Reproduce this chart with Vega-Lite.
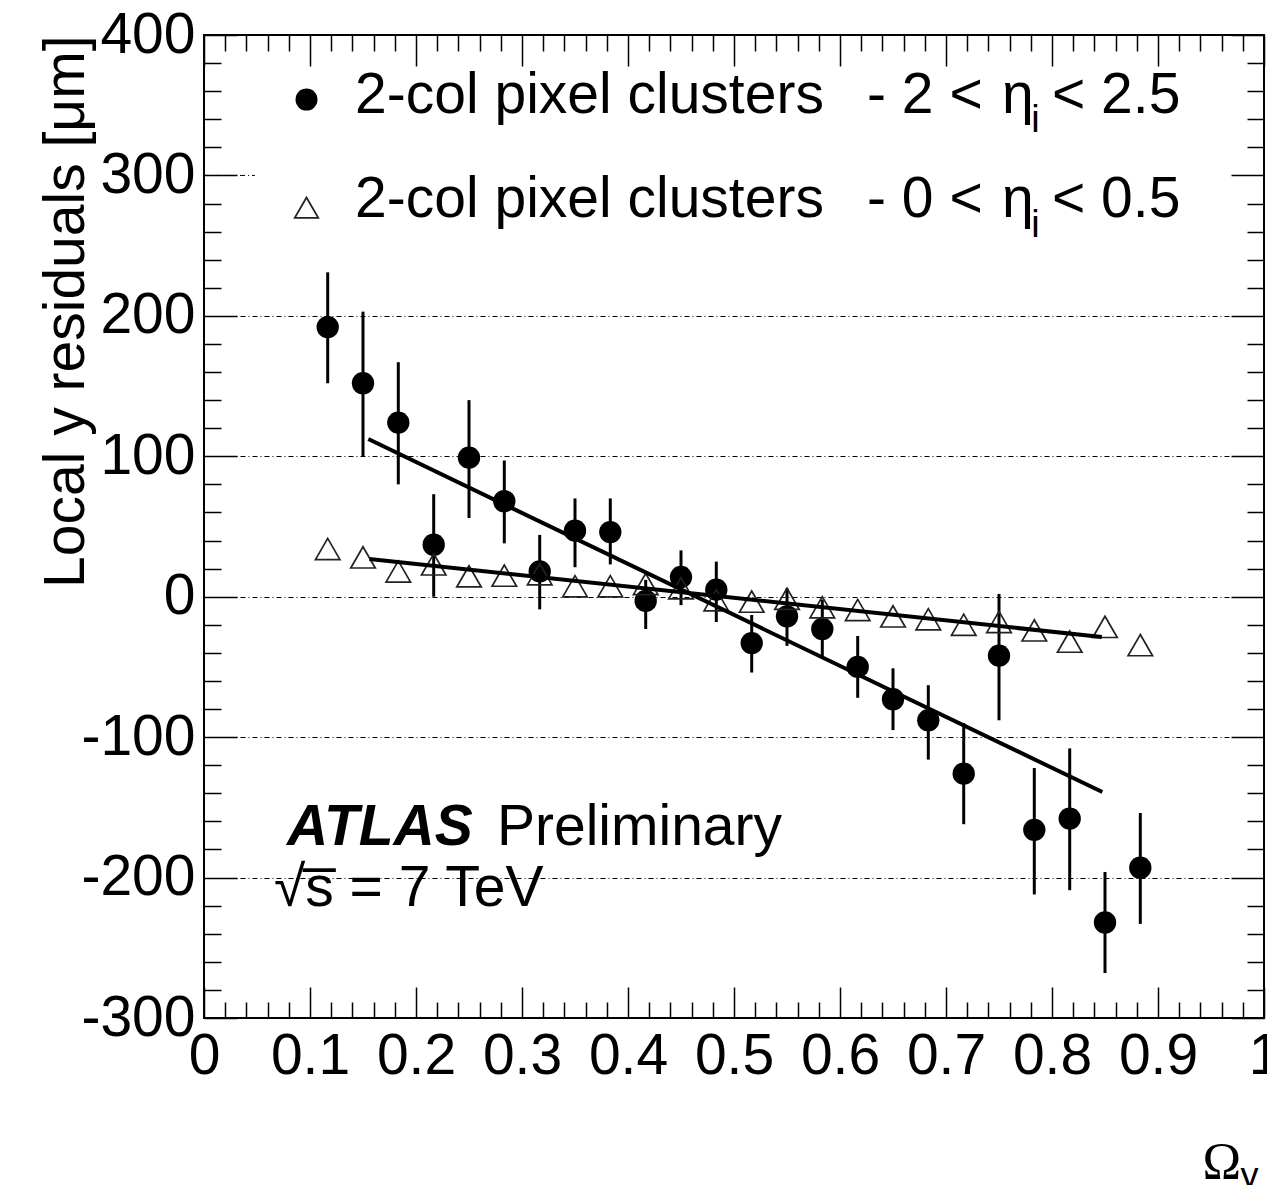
{
  "$schema": "https://vega.github.io/schema/vega-lite/v6.json",
  "width": 1060,
  "height": 983,
  "autosize": {"type": "none"},
  "padding": {"left": 204, "top": 35, "right": 3, "bottom": 167},
  "background": "white",
  "config": {
    "font": "Liberation Sans",
    "view": {"stroke": "black", "strokeWidth": 2},
    "axis": {"labelColor": "black", "titleColor": "black", "tickColor": "black", "domain": false, "grid": false, "labelFontWeight": "normal", "titleFontWeight": "normal", "tickWidth": 1.5}
  },
  "datasets": {
    "fwd": [
      {"x": 0.1167, "y": 192, "lo": 152, "hi": 231},
      {"x": 0.15, "y": 152, "lo": 100, "hi": 203},
      {"x": 0.1833, "y": 124, "lo": 80, "hi": 167},
      {"x": 0.2167, "y": 37, "lo": 0, "hi": 73},
      {"x": 0.25, "y": 99, "lo": 56, "hi": 140},
      {"x": 0.2833, "y": 68, "lo": 38, "hi": 97},
      {"x": 0.3167, "y": 18, "lo": -9, "hi": 44},
      {"x": 0.35, "y": 47, "lo": 21, "hi": 70},
      {"x": 0.3833, "y": 46, "lo": 23, "hi": 70},
      {"x": 0.4167, "y": -3, "lo": -23, "hi": 12},
      {"x": 0.45, "y": 14, "lo": -6, "hi": 33},
      {"x": 0.4833, "y": 5, "lo": -18, "hi": 25},
      {"x": 0.5167, "y": -33, "lo": -54, "hi": -13},
      {"x": 0.55, "y": -14, "lo": -35, "hi": 6},
      {"x": 0.5833, "y": -23, "lo": -43, "hi": -2},
      {"x": 0.6167, "y": -50, "lo": -72, "hi": -28},
      {"x": 0.65, "y": -73, "lo": -95, "hi": -51},
      {"x": 0.6833, "y": -88, "lo": -116, "hi": -63},
      {"x": 0.7167, "y": -126, "lo": -162, "hi": -90},
      {"x": 0.75, "y": -42, "lo": -88, "hi": 2},
      {"x": 0.7833, "y": -166, "lo": -212, "hi": -122},
      {"x": 0.8167, "y": -158, "lo": -209, "hi": -108},
      {"x": 0.85, "y": -232, "lo": -268, "hi": -196},
      {"x": 0.8833, "y": -193, "lo": -233, "hi": -154}
    ],
    "cen": [
      {"x": 0.1167, "y": 34}, {"x": 0.15, "y": 28}, {"x": 0.1833, "y": 18}, {"x": 0.2167, "y": 23},
      {"x": 0.25, "y": 14.5}, {"x": 0.2833, "y": 15}, {"x": 0.3167, "y": 16}, {"x": 0.35, "y": 7.5},
      {"x": 0.3833, "y": 7.5}, {"x": 0.4167, "y": 9}, {"x": 0.45, "y": 6}, {"x": 0.4833, "y": -2.5},
      {"x": 0.5167, "y": -3.5}, {"x": 0.55, "y": -1.5}, {"x": 0.5833, "y": -7.5}, {"x": 0.6167, "y": -9.5},
      {"x": 0.65, "y": -14}, {"x": 0.6833, "y": -16}, {"x": 0.7167, "y": -20}, {"x": 0.75, "y": -18},
      {"x": 0.7833, "y": -24}, {"x": 0.8167, "y": -32}, {"x": 0.85, "y": -21.5}, {"x": 0.8833, "y": -34.5}
    ],
    "fits": [
      {"f": "a", "x": 0.155, "y": 112.3}, {"f": "a", "x": 0.8475, "y": -139.1},
      {"f": "b", "x": 0.156, "y": 26.8}, {"f": "b", "x": 0.847, "y": -28.7}
    ],
    "grid300": [{"x1": 0, "x2": 0.048, "y": 300}],
    "legCircle": [{"x": 0.0967, "y": 354}],
    "legTri": [{"x": 0.0967, "y": 277}],
    "texts": [
      {"x": 0.1425, "y": 344.7, "t": "2-col pixel clusters"},
      {"x": 0.6255, "y": 344.7, "t": "- 2 <"},
      {"x": 0.7528, "y": 344.7, "t": "η"},
      {"x": 0.8, "y": 344.7, "t": "< 2.5"},
      {"x": 0.1425, "y": 270.7, "t": "2-col pixel clusters"},
      {"x": 0.6255, "y": 270.7, "t": "- 0 <"},
      {"x": 0.7528, "y": 270.7, "t": "η"},
      {"x": 0.8, "y": 270.7, "t": "< 0.5"},
      {"x": 0.2764, "y": -176.6, "t": "Preliminary"},
      {"x": 0.066, "y": -220, "t": "√s̅ = 7 TeV"}
    ],
    "bold": [{"x": 0.0783, "y": -176.6, "t": "ATLAS"}],
    "subs": [
      {"x": 0.7805, "y": 331.2, "t": "i"},
      {"x": 0.7805, "y": 256.4, "t": "i"}
    ]
  },
  "resolve": {"axis": {"x": "independent", "y": "independent"}},
  "layer": [
    {
      "data": {"name": "grid300"},
      "mark": {"type": "rule", "color": "black", "strokeWidth": 1, "strokeDash": [5, 3, 1, 3]},
      "encoding": {
        "x": {"field": "x1", "type": "quantitative", "scale": {"domain": [0, 1], "nice": false, "zero": false}, "axis": null},
        "x2": {"field": "x2"},
        "y": {"field": "y", "type": "quantitative", "scale": {"domain": [-300, 400], "nice": false, "zero": false},
          "axis": {"orient": "left", "values": [-200, -100, 0, 100, 200], "grid": true, "gridColor": "black", "gridWidth": 1, "gridDash": [5, 3, 1, 3], "gridOpacity": 1, "ticks": false, "labels": false, "title": null, "zindex": 0}}
      }
    },
    {
      "data": {"name": "fwd"},
      "mark": {"type": "rule", "color": "black", "strokeWidth": 3},
      "encoding": {
        "x": {"field": "x", "type": "quantitative", "scale": {"domain": [0, 1], "nice": false, "zero": false},
          "axis": {"orient": "bottom", "values": [0, 0.1, 0.2, 0.3, 0.4, 0.5, 0.6, 0.7, 0.8, 0.9, 1], "ticks": false, "labelFontSize": 57, "labelPadding": 10, "labelFlush": false, "labelOverlap": false, "labelBound": false,
            "labelExpr": "datum.value == 0 || datum.value == 1 ? '' + datum.value : format(datum.value, '.1f')",
            "title": "Ω", "titleFont": "Liberation Serif", "titleFontSize": 52, "titleX": 998, "titleY": 160, "titleAlign": "left", "titleBaseline": "alphabetic", "titleAngle": 0, "zindex": 1}},
        "y": {"field": "lo", "type": "quantitative", "scale": {"domain": [-300, 400], "nice": false, "zero": false},
          "axis": {"orient": "left", "values": [-300, -200, -100, 0, 100, 200, 300, 400], "ticks": false, "labelFontSize": 57, "labelPadding": 9, "labelFlush": false, "labelOverlap": false, "labelBound": false,
            "labelExpr": "'' + datum.value",
            "title": "Local y residuals [μm]", "titleFontSize": 57, "titleX": -121, "titleY": 0, "titleAngle": -90, "titleAlign": "right", "titleBaseline": "alphabetic", "zindex": 1}},
        "y2": {"field": "hi"}
      }
    },
    {
      "data": {"name": "fwd"},
      "mark": {"type": "point", "shape": "circle", "filled": true, "color": "black", "opacity": 1, "size": 500},
      "encoding": {
        "x": {"field": "x", "type": "quantitative", "scale": {"domain": [0, 1], "nice": false, "zero": false},
          "axis": {"orient": "bottom", "values": [0, 0.1, 0.2, 0.3, 0.4, 0.5, 0.6, 0.7, 0.8, 0.9, 1], "tickSize": -31, "labels": false, "title": null, "zindex": 1}},
        "y": {"field": "y", "type": "quantitative", "scale": {"domain": [-300, 400], "nice": false, "zero": false},
          "axis": {"orient": "left", "values": [-300, -200, -100, 0, 100, 200, 300, 400], "tickSize": -33, "labels": false, "title": null, "zindex": 1}}
      }
    },
    {
      "data": {"name": "cen"},
      "mark": {"type": "point", "shape": "triangle-up", "filled": false, "stroke": "#222222", "strokeWidth": 1.7, "opacity": 1, "size": 600},
      "encoding": {
        "x": {"field": "x", "type": "quantitative", "scale": {"domain": [0, 1], "nice": false, "zero": false},
          "axis": {"orient": "bottom", "values": [0.02, 0.04, 0.06, 0.08, 0.12, 0.14, 0.16, 0.18, 0.22, 0.24, 0.26, 0.28, 0.32, 0.34, 0.36, 0.38, 0.42, 0.44, 0.46, 0.48, 0.52, 0.54, 0.56, 0.58, 0.62, 0.64, 0.66, 0.68, 0.72, 0.74, 0.76, 0.78, 0.82, 0.84, 0.86, 0.88, 0.92, 0.94, 0.96, 0.98], "tickSize": -16, "labels": false, "title": null, "zindex": 1}},
        "y": {"field": "y", "type": "quantitative", "scale": {"domain": [-300, 400], "nice": false, "zero": false},
          "axis": {"orient": "left", "values": [-280, -260, -240, -220, -180, -160, -140, -120, -80, -60, -40, -20, 20, 40, 60, 80, 120, 140, 160, 180, 220, 240, 260, 280, 320, 340, 360, 380], "tickSize": -17, "labels": false, "title": null, "zindex": 1}}
      }
    },
    {
      "data": {"name": "fits"},
      "mark": {"type": "line", "color": "black", "strokeWidth": 4},
      "encoding": {
        "x": {"field": "x", "type": "quantitative", "scale": {"domain": [0, 1], "nice": false, "zero": false},
          "axis": {"orient": "top", "values": [0, 0.1, 0.2, 0.3, 0.4, 0.5, 0.6, 0.7, 0.8, 0.9, 1], "tickSize": -31, "labels": false, "title": null, "zindex": 1}},
        "y": {"field": "y", "type": "quantitative", "scale": {"domain": [-300, 400], "nice": false, "zero": false},
          "axis": {"orient": "right", "values": [-300, -200, -100, 0, 100, 200, 300, 400], "tickSize": -33, "labels": false, "title": null, "zindex": 1}},
        "detail": {"field": "f", "type": "nominal"}
      }
    },
    {
      "data": {"name": "legCircle"},
      "mark": {"type": "point", "shape": "circle", "filled": true, "color": "black", "opacity": 1, "size": 484},
      "encoding": {
        "x": {"field": "x", "type": "quantitative", "scale": {"domain": [0, 1], "nice": false, "zero": false},
          "axis": {"orient": "top", "values": [0.02, 0.04, 0.06, 0.08, 0.12, 0.14, 0.16, 0.18, 0.22, 0.24, 0.26, 0.28, 0.32, 0.34, 0.36, 0.38, 0.42, 0.44, 0.46, 0.48, 0.52, 0.54, 0.56, 0.58, 0.62, 0.64, 0.66, 0.68, 0.72, 0.74, 0.76, 0.78, 0.82, 0.84, 0.86, 0.88, 0.92, 0.94, 0.96, 0.98], "tickSize": -16, "labels": false, "title": null, "zindex": 1}},
        "y": {"field": "y", "type": "quantitative", "scale": {"domain": [-300, 400], "nice": false, "zero": false},
          "axis": {"orient": "right", "values": [-280, -260, -240, -220, -180, -160, -140, -120, -80, -60, -40, -20, 20, 40, 60, 80, 120, 140, 160, 180, 220, 240, 260, 280, 320, 340, 360, 380], "tickSize": -17, "labels": false, "title": null, "zindex": 1}}
      }
    },
    {
      "data": {"name": "legTri"},
      "mark": {"type": "point", "shape": "triangle-up", "filled": false, "stroke": "#222222", "strokeWidth": 1.7, "opacity": 1, "size": 560},
      "encoding": {
        "x": {"field": "x", "type": "quantitative", "scale": {"domain": [0, 1], "nice": false, "zero": false},
          "axis": {"orient": "bottom", "values": [], "ticks": false, "labels": false, "title": "y", "titleFontSize": 36, "titleX": 1036, "titleY": 169, "titleAlign": "left", "titleBaseline": "alphabetic", "titleAngle": 0, "zindex": 1}},
        "y": {"field": "y", "type": "quantitative", "scale": {"domain": [-300, 400], "nice": false, "zero": false}, "axis": null}
      }
    },
    {
      "data": {"name": "texts"},
      "mark": {"type": "text", "align": "left", "baseline": "alphabetic", "fontSize": 57, "color": "black"},
      "encoding": {
        "x": {"field": "x", "type": "quantitative", "scale": {"domain": [0, 1], "nice": false, "zero": false}, "axis": null},
        "y": {"field": "y", "type": "quantitative", "scale": {"domain": [-300, 400], "nice": false, "zero": false}, "axis": null},
        "text": {"field": "t"}
      }
    },
    {
      "data": {"name": "bold"},
      "mark": {"type": "text", "align": "left", "baseline": "alphabetic", "fontSize": 57, "fontWeight": "bold", "fontStyle": "italic", "color": "black"},
      "encoding": {
        "x": {"field": "x", "type": "quantitative", "scale": {"domain": [0, 1], "nice": false, "zero": false}, "axis": null},
        "y": {"field": "y", "type": "quantitative", "scale": {"domain": [-300, 400], "nice": false, "zero": false}, "axis": null},
        "text": {"field": "t"}
      }
    },
    {
      "data": {"name": "subs"},
      "mark": {"type": "text", "align": "left", "baseline": "alphabetic", "fontSize": 38, "color": "black"},
      "encoding": {
        "x": {"field": "x", "type": "quantitative", "scale": {"domain": [0, 1], "nice": false, "zero": false}, "axis": null},
        "y": {"field": "y", "type": "quantitative", "scale": {"domain": [-300, 400], "nice": false, "zero": false}, "axis": null},
        "text": {"field": "t"}
      }
    }
  ]
}
